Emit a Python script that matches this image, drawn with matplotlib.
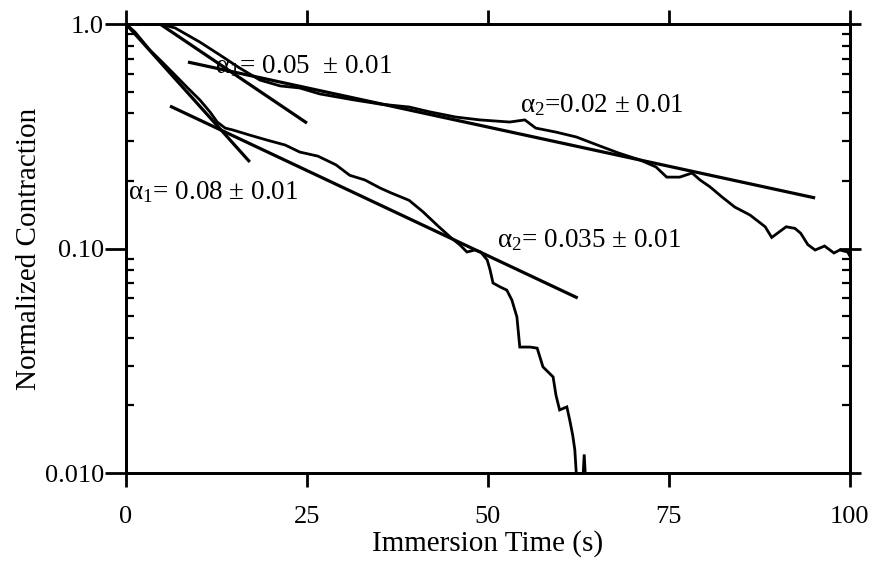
import matplotlib
matplotlib.use("Agg")
import matplotlib.pyplot as plt
from matplotlib.ticker import FixedLocator, FixedFormatter, LogLocator, NullFormatter

# ---- data ----
upper_t = [0, 4.7, 6.8, 10.2, 13.0, 15.7, 18.5, 21.3, 24.0, 26.8, 31.5, 35.1, 39.1, 42.0,
           45.6, 48.9, 53.0, 55.1, 56.6, 59.4, 62.2, 65.5, 68.1, 71.0, 73.2, 74.7, 76.5,
           78.2, 79.3, 80.7, 82.3, 84.1, 86.2, 88.3, 89.2, 91.2, 92.4, 93.2, 94.2, 95.2,
           96.5, 97.8, 98.6, 99.7, 100.0]
upper_c = [1.0, 1.0, 0.960, 0.831, 0.727, 0.637, 0.563, 0.530, 0.519, 0.488, 0.459, 0.440,
           0.427, 0.406, 0.385, 0.374, 0.366, 0.374, 0.344, 0.330, 0.314, 0.286, 0.266,
           0.248, 0.231, 0.208, 0.208, 0.217, 0.202, 0.188, 0.170, 0.153, 0.141, 0.125,
           0.112, 0.125, 0.123, 0.117, 0.104, 0.0985, 0.1026, 0.0955, 0.0985, 0.0965, 0.0926]

lower_t = [0, 1.24, 3.3, 5.0, 6.5, 8.4, 10.2, 11.6, 12.6, 13.7, 14.8, 17.1, 19.5, 22.0,
           24.0, 26.5, 29.0, 30.9, 33.0, 35.1, 36.6, 39.1, 41.0, 43.1, 45.0, 46.1, 47.1,
           48.2, 49.0, 49.9, 50.3, 50.7, 51.7, 52.6, 53.3, 54.0, 54.4, 55.8, 56.8, 57.6,
           59.0, 59.4, 59.9, 60.9, 61.3, 61.7, 62.0, 62.2, 62.5, 63.0, 63.3, 63.6, 64.0]
lower_c = [1.0, 0.921, 0.766, 0.677, 0.605, 0.524, 0.459, 0.406, 0.366, 0.344, 0.337,
           0.320, 0.304, 0.289, 0.269, 0.258, 0.236, 0.212, 0.202, 0.186, 0.177, 0.164,
           0.146, 0.126, 0.111, 0.104, 0.0965, 0.0985, 0.0965, 0.0889, 0.0802, 0.0702,
           0.0674, 0.0653, 0.0590, 0.0496, 0.0364, 0.0364, 0.0360, 0.0297, 0.0268, 0.0222,
           0.0191, 0.0197, 0.0172, 0.0148, 0.0127, 0.0100, 0.0080, 0.0080, 0.0121, 0.0080, 0.0080]

# fitted exponential segments: (t_start, t_end, c_start, c_end)
fit_t0 = [4.7, 8.56, 0.0, 6.08]
fit_t1 = [25.0, 95.2, 17.1, 62.4]
fit_c0 = [1.0, 0.677, 1.0, 0.431]
fit_c1 = [0.362, 0.168, 0.243, 0.0602]

labels = ["α$_1$= 0.05  ± 0.01", "α$_2$=0.02 ± 0.01",
          "α$_1$= 0.08 ± 0.01", "α$_2$= 0.035 ± 0.01"]
label_t = [12.3, 54.4, 0.3, 51.2]
label_c = [0.650, 0.436, 0.179, 0.109]

yticks = [0.01, 0.1, 1.0]
yticklabels = ["0.010", "0.10", "1.0"]
xticks = [0, 25, 50, 75, 100]

# ---- drawing ----
plt.rcParams['font.family'] = ['Liberation Serif', 'DejaVu Serif']
plt.rcParams['mathtext.fontset'] = 'custom'
plt.rcParams['mathtext.rm'] = 'Liberation Serif'
plt.rcParams['mathtext.it'] = 'Liberation Serif:italic'

fig = plt.figure(figsize=(8.69, 5.64), dpi=100)
ax = fig.add_axes([0.145, 0.1613, 0.833, 0.7961])

ax.plot(upper_t, upper_c, color='black', lw=2.0, solid_joinstyle='miter')
ax.plot(lower_t, lower_c, color='black', lw=2.0, solid_joinstyle='miter')
for a, b, c, d in zip(fit_t0, fit_t1, fit_c0, fit_c1):
    ax.plot([a, b], [c, d], color='black', lw=2.3, solid_capstyle='butt')

for s, x, y in zip(labels, label_t, label_c):
    ax.text(x, y, s, fontsize=19.5, va='center', ha='left')

ax.set_yscale('log')
ax.set_xlim(0, 100)
ax.set_ylim(0.01, 1.0)
ax.yaxis.set_major_locator(FixedLocator(yticks))
ax.yaxis.set_major_formatter(FixedFormatter(yticklabels))
ax.yaxis.set_minor_locator(LogLocator(base=10, subs=range(2, 10)))
ax.yaxis.set_minor_formatter(NullFormatter())
ax.xaxis.set_major_locator(FixedLocator(xticks))

for sp in ax.spines.values():
    sp.set_linewidth(2.0)

ax.tick_params(axis='x', which='major', direction='out', length=10, width=2,
               labelsize=19, top=True, pad=14)
ax.tick_params(axis='y', which='major', direction='out', length=15, width=2,
               labelsize=19, right=False, pad=1)
ax.tick_params(axis='y', which='minor', direction='in', length=6, width=1.6,
               left=True, right=False)

# right-hand axis with crossing major ticks
ax2 = ax.twinx()
ax2.set_yscale('log')
ax2.set_ylim(0.01, 1.0)
ax2.yaxis.set_major_locator(FixedLocator(yticks))
ax2.yaxis.set_minor_locator(LogLocator(base=10, subs=range(2, 10)))
ax2.yaxis.set_major_formatter(NullFormatter())
ax2.yaxis.set_minor_formatter(NullFormatter())
ax2.tick_params(axis='y', which='major', direction='inout', length=16, width=2)
ax2.tick_params(axis='y', which='minor', direction='in', length=6, width=1.6)
for sp in ax2.spines.values():
    sp.set_linewidth(2.0)

ax.set_xlabel("Immersion Time (s)", fontsize=21, labelpad=1)
ax.set_ylabel("Normalized Contraction", fontsize=21, labelpad=2)

fig.savefig("out.png", dpi=100)
